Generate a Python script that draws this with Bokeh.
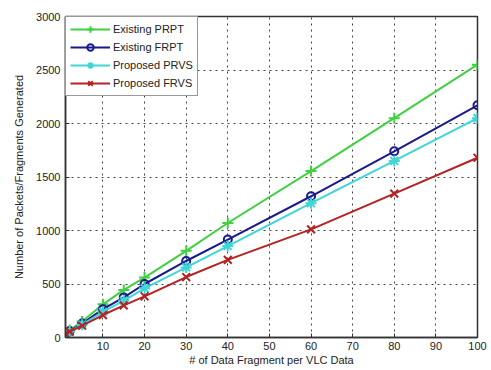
from bokeh.plotting import figure
from bokeh.models import Range1d, FixedTicker, Legend, LegendItem
from bokeh.embed import file_html
from bokeh.resources import INLINE

x_vals = [1, 2, 5, 10, 15, 20, 30, 40, 60, 80, 100]
existing_prpt = [45, 70, 150, 310, 445, 560, 810, 1070, 1555, 2050, 2550]
existing_frpt = [40, 60, 130, 265, 375, 500, 715, 915, 1320, 1740, 2170]
proposed_prvs = [35, 55, 120, 240, 345, 460, 655, 855, 1255, 1650, 2050]
proposed_frvs = [35, 55, 110, 210, 300, 385, 565, 725, 1010, 1345, 1680]
x_ticks = [10, 20, 30, 40, 50, 60, 70, 80, 90, 100]
y_ticks = [0, 500, 1000, 1500, 2000, 2500, 3000]

FONT = "Liberation Sans"

p = figure(width=489, height=368, output_backend="svg", toolbar_location=None,
           x_range=Range1d(1, 100), y_range=Range1d(0, 3000),
           min_border_left=65, min_border_top=16, min_border_right=12, min_border_bottom=10)

p.outline_line_color = "#333333"
p.outline_line_width = 1.5
p.background_fill_color = "white"
p.border_fill_color = "white"

for ax in (p.xaxis[0], p.yaxis[0]):
    ax.major_tick_in = 4
    ax.major_tick_out = 0
    ax.minor_tick_in = 0
    ax.minor_tick_out = 0
    ax.axis_line_color = "#333333"
    ax.axis_line_width = 1.5
    ax.major_tick_line_color = "#333333"
    ax.major_label_text_font = FONT
    ax.major_label_text_font_size = "11px"
    ax.major_label_text_color = "#222222"
    ax.axis_label_text_font = FONT
    ax.axis_label_text_font_size = "11px"
    ax.axis_label_text_font_style = "normal"
    ax.axis_label_text_color = "#222222"

p.xaxis.ticker = FixedTicker(ticks=x_ticks)
p.yaxis.ticker = FixedTicker(ticks=y_ticks)
p.xaxis.axis_label = "# of Data Fragment per VLC Data"
p.yaxis.axis_label = "Number of Packets/Fragments Generated"
p.xaxis.major_label_standoff = 4
p.xaxis.axis_label_standoff = 1
p.yaxis.major_label_standoff = 5
p.yaxis.axis_label_standoff = 8

p.grid.grid_line_color = "#222222"
p.grid.grid_line_dash = "dotted"
p.grid.grid_line_width = 1
p.grid.grid_line_alpha = 0.85

series = [
    ("Existing PRPT", existing_prpt, "#3fd13f", "cross"),
    ("Existing FRPT", existing_frpt, "#1a1a8a", "circle"),
    ("Proposed PRVS", proposed_prvs, "#3ed6d6", "asterisk"),
    ("Proposed FRVS", proposed_frvs, "#b52222", "x"),
]

items = []
for label, ys, color, marker in series:
    r1 = p.line(x_vals, ys, line_color=color, line_width=2)
    if marker == "circle":
        r2 = p.scatter(x_vals, ys, marker=marker, size=8, line_color=color,
                       fill_color=None, line_width=2)
    else:
        r2 = p.scatter(x_vals, ys, marker=marker, size=11, line_color=color,
                       fill_color=color, line_width=2)
    items.append(LegendItem(label=label, renderers=[r1, r2]))

legend = Legend(items=items, location="top_left")
legend.margin = 0
legend.padding = 4
legend.spacing = 2
legend.glyph_width = 40
legend.glyph_height = 16
legend.label_standoff = 3
legend.label_text_font = FONT
legend.label_text_font_size = "11px"
legend.label_text_color = "#222222"
legend.border_line_color = "#333333"
legend.border_line_width = 1.5
legend.background_fill_color = "white"
legend.background_fill_alpha = 1.0
p.add_layout(legend)

open("out.html", "w").write(file_html(p, INLINE))
